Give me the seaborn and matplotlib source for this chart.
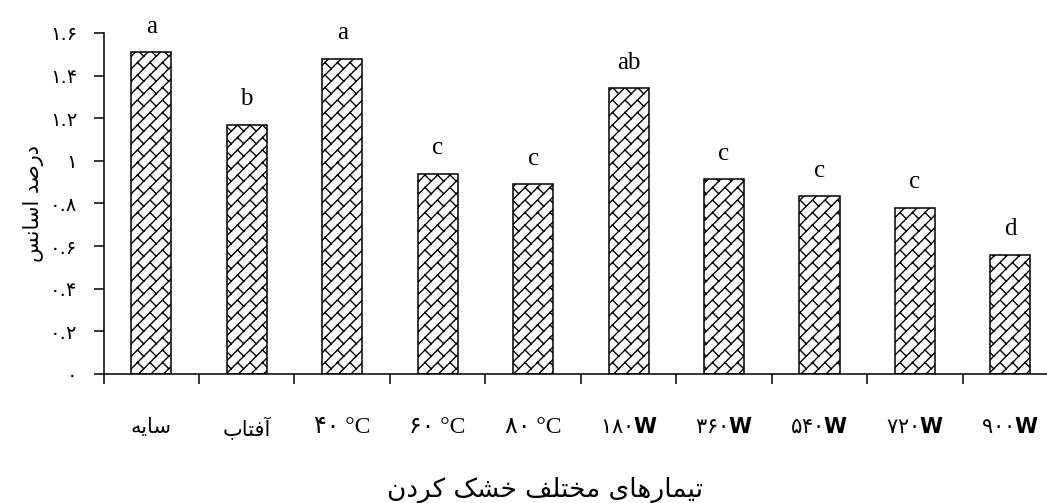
import warnings

import matplotlib
matplotlib.use("Agg")
import matplotlib.pyplot as plt
from matplotlib import hatch as mhatch
from matplotlib.path import Path
import numpy as np
import seaborn as sns

warnings.filterwarnings("ignore", category=matplotlib.MatplotlibDeprecationWarning)

# ---- data -------------------------------------------------------------
treatments = ["سایه", "آفتاب", "۴۰ °C", "۶۰ °C", "۸۰ °C",
              "۱۸۰W", "۳۶۰W", "۵۴۰W", "۷۲۰W", "۹۰۰W"]
oil_percent = [1.51, 1.17, 1.48, 0.94, 0.89, 1.34, 0.915, 0.835, 0.78, 0.56]
group_letters = ["a", "b", "a", "c", "c", "ab", "c", "c", "c", "d"]
y_ticks = [0, 0.2, 0.4, 0.6, 0.8, 1.0, 1.2, 1.4, 1.6]
y_label = "درصد اسانس"
x_label = "تیمارهای مختلف خشک کردن"

# ---- Persian text shaping (presentation forms, visual order) ----------
ARABIC_FORMS = {
    "\u0627": ("\uFE8D", "\uFE8E"),                      # alef
    "\u0622": ("\uFE81", "\uFE82"),                      # alef madda
    "\u062F": ("\uFEA9", "\uFEAA"),                      # dal
    "\u0631": ("\uFEAD", "\uFEAE"),                      # reh
    "\u0628": ("\uFE8F", "\uFE90", "\uFE91", "\uFE92"),  # beh
    "\u062A": ("\uFE95", "\uFE96", "\uFE97", "\uFE98"),  # teh
    "\u062E": ("\uFEA5", "\uFEA6", "\uFEA7", "\uFEA8"),  # khah
    "\u0633": ("\uFEB1", "\uFEB2", "\uFEB3", "\uFEB4"),  # seen
    "\u0634": ("\uFEB5", "\uFEB6", "\uFEB7", "\uFEB8"),  # sheen
    "\u0635": ("\uFEB9", "\uFEBA", "\uFEBB", "\uFEBC"),  # sad
    "\u0641": ("\uFED1", "\uFED2", "\uFED3", "\uFED4"),  # feh
    "\u0644": ("\uFEDD", "\uFEDE", "\uFEDF", "\uFEE0"),  # lam
    "\u0645": ("\uFEE1", "\uFEE2", "\uFEE3", "\uFEE4"),  # meem
    "\u0646": ("\uFEE5", "\uFEE6", "\uFEE7", "\uFEE8"),  # noon
    "\u0647": ("\uFEE9", "\uFEEA", "\uFEEB", "\uFEEC"),  # heh
    "\u06CC": ("\uFBFC", "\uFBFD", "\uFBFE", "\uFBFF"),  # farsi yeh
    "\u06A9": ("\uFB8E", "\uFB8F", "\uFB90", "\uFB91"),  # keheh
}


def shape_rtl(text):
    """Join Persian letters and return the string in display order."""
    text = text.replace("\u064A", "\u06CC").replace("\u0643", "\u06A9")
    out = []
    for i, ch in enumerate(text):
        forms = ARABIC_FORMS.get(ch)
        if forms is None:
            out.append(ch)
            continue
        prev = text[i - 1] if i > 0 else ""
        nxt = text[i + 1] if i + 1 < len(text) else ""
        join_prev = prev in ARABIC_FORMS and len(ARABIC_FORMS[prev]) == 4
        join_next = len(forms) == 4 and nxt in ARABIC_FORMS
        if join_prev and join_next:
            out.append(forms[3])
        elif join_prev:
            out.append(forms[1])
        elif join_next:
            out.append(forms[2])
        else:
            out.append(forms[0])
    return "".join(reversed(out))


def is_persian_word(text):
    return any("\u0600" <= c <= "\u06FF" and not ("\u06F0" <= c <= "\u06F9")
               for c in text)


PERSIAN_DIGITS = str.maketrans("0123456789", "۰۱۲۳۴۵۶۷۸۹")


# ---- diagonal brick fill pattern ('b') --------------------------------
class DiagonalBrickHatch(mhatch.HatchPatternBase):
    # one brick cell in unit coordinates: long "/" courses and short
    # staggered "\" joints between them
    cell = np.array([
        [(0.0, 0.0), (1.0, 1.0)],
        [(0.0, 0.5), (0.5, 1.0)],
        [(0.5, 0.0), (1.0, 0.5)],
        [(0.25, 0.25), (0.0, 0.5)],
        [(0.75, 0.75), (0.5, 1.0)],
        [(0.25, 0.75), (0.0, 1.0)],
        [(0.75, 0.25), (0.5, 0.5)],
    ])

    def __init__(self, hatch, density):
        self.reps = hatch.count("b") * 4
        self.num_vertices = self.reps * self.reps * len(self.cell) * 2

    def set_vertices_and_codes(self, vertices, codes):
        n = self.reps
        segs = []
        for i in range(n):
            for j in range(n):
                segs.append((self.cell + np.array([i, j])) / n)
        segs = np.concatenate(segs).reshape(-1, 2)
        vertices[:] = segs
        codes[0::2] = Path.MOVETO
        codes[1::2] = Path.LINETO


mhatch._hatch_types.append(DiagonalBrickHatch)

# ---- style ------------------------------------------------------------
sns.set_theme(style="white")
plt.rcParams["font.family"] = ["DejaVu Sans"]
plt.rcParams["mathtext.fontset"] = "custom"
plt.rcParams["mathtext.rm"] = "DejaVu Sans"
plt.rcParams["mathtext.bf"] = "DejaVu Sans:bold"
plt.rcParams["hatch.linewidth"] = 1.0
plt.rcParams["hatch.color"] = "black"

fig = plt.figure(figsize=(10.47, 5.03), dpi=100)
ax = fig.add_axes([0.0989, 0.2565, 0.9117, 0.678])

positions = np.arange(len(treatments))
sns.barplot(x=positions, y=oil_percent, ax=ax, color="white", saturation=1,
            width=0.42, edgecolor="black", linewidth=1.1, hatch="b",
            native_scale=False)

# significance letters above bars
for i, (v, letter) in enumerate(zip(oil_percent, group_letters)):
    ax.annotate(letter, (i, v), xytext=(0, 14), textcoords="offset points",
                ha="center", va="baseline", fontsize=18,
                fontfamily="Liberation Serif", color="black")

# y axis
ax.set_ylim(0, 1.6)
ax.set_yticks(y_ticks)
ax.set_yticklabels([f"{t:g}".translate(PERSIAN_DIGITS) for t in y_ticks],
                   fontsize=14, fontfamily="DejaVu Sans")
ax.tick_params(axis="y", direction="out", length=7, width=1.1, pad=12,
               colors="black", left=True)

# x axis: ticks between bars, names centred under each bar
ax.set_xlim(-0.5, len(treatments) - 0.5)
ax.set_xticks(np.arange(len(treatments) + 1) - 0.5)
ax.set_xticklabels([])
ax.tick_params(axis="x", which="major", direction="out", length=7,
               width=1.1, colors="black", bottom=True)

shown = []
for name in treatments:
    if is_persian_word(name):
        shown.append(shape_rtl(name))
    elif name.endswith("W"):
        shown.append(name[:-1] + r"$\mathbf{W}$")
    else:
        shown.append(name)
ax.set_xticks(positions, minor=True)
ax.set_xticklabels(shown, minor=True, fontsize=15)
ax.tick_params(axis="x", which="minor", length=0, pad=31, colors="black")
for lbl, name in zip(ax.get_xticklabels(minor=True), treatments):
    if name.endswith("C"):
        lbl.set_fontfamily(["Liberation Serif", "DejaVu Sans"])
        lbl.set_fontsize(17)
    else:
        lbl.set_fontfamily(["DejaVu Sans"])

for side in ("top", "right"):
    ax.spines[side].set_visible(False)
for side in ("left", "bottom"):
    ax.spines[side].set_color("black")
    ax.spines[side].set_linewidth(1.1)

ax.set_ylabel(shape_rtl(y_label), fontsize=15, color="black")
ax.yaxis.set_label_coords(-0.062, 0.5)
ax.set_xlabel(shape_rtl(x_label), fontsize=19, color="black")
ax.xaxis.set_label_coords(0.4626, -0.30)

fig.savefig("out.png", dpi=100)
